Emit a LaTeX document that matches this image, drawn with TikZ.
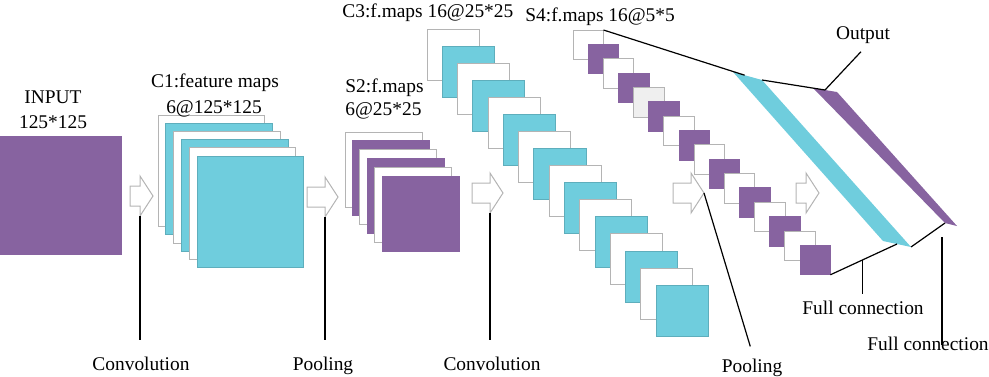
\documentclass[tikz,border=0pt]{standalone}
\usepackage{fontspec}
\setmainfont{Liberation Serif}
\usetikzlibrary{calc}
\definecolor{mapcyan}{HTML}{6FCDDD}
\definecolor{mappurple}{HTML}{8763A0}
\definecolor{mapedge}{HTML}{B4B4B4}
\definecolor{lightsheet}{HTML}{EFEFEF}
\tikzset{
  fmap/.style={draw=mapedge, line width=0.4pt, anchor=north west, inner sep=0pt, outer sep=0pt},
  c1map/.style={fmap, minimum width=53.25pt, minimum height=55.75pt},
  s2map/.style={fmap, minimum width=38.5pt, minimum height=37.5pt},
  c3map/.style={fmap, minimum width=26pt, minimum height=25.5pt},
  s4map/.style={fmap, minimum width=15.25pt, minimum height=14.75pt},
  lbl/.style={inner xsep=1pt, inner ysep=3pt},
  callout/.style={draw=black, line width=0.6pt},
  pics/openarrow/.style={code={
    \draw[draw=mapedge, fill=white, line width=0.5pt] (0,0) -- (-13,-20) -- (-13,-10)
      -- (-13-#1,-10) -- (-13-#1,10) -- (-13,10) -- (-13,20) -- cycle;
    \coordinate (-tip) at (0,0);
    \coordinate (-low) at (-13,20);
  }},
}

\begin{document}
\begin{tikzpicture}[x=0.5pt, y=-0.5pt, font=\fontsize{9.7}{11.6}\selectfont]
  \useasboundingbox (0,0) rectangle (989,376);
  % input
  \node[fmap, draw=none, fill=mappurple, minimum width=61pt, minimum height=59.5pt] (input) at (0,136) {};
  \node[lbl, anchor=base] (inlbl) at (53,103) {INPUT};
  \node[lbl, anchor=base] (insize) at (53,128) {125*125};
  % C1
  \foreach \i in {1,...,6}{
    \ifodd\i \def\mapfill{white}\def\mapdraw{mapedge}\else\def\mapfill{mapcyan}\def\mapdraw{mapcyan!85!black}\fi
    \node[c1map, fill=\mapfill, draw=\mapdraw] (c1-\i) at ({158+(\i-1)*7.8},{115+(\i-1)*8.2}) {};
  }
  \node[lbl, anchor=base] (c1lbl) at (215,87) {C1:feature maps};
  \node[lbl, anchor=base] (c1size) at (214,113) {6@125*125};
  % S2
  \foreach \i in {1,...,6}{
    \ifodd\i \def\mapfill{white}\def\mapdraw{mapedge}\else\def\mapfill{mappurple}\def\mapdraw{mappurple}\fi
    \node[s2map, fill=\mapfill, draw=\mapdraw] (s2-\i) at ({345+(\i-1)*7.4},{132+(\i-1)*8.8}) {};
  }
  \node[lbl, anchor=base west, inner xsep=0pt] (s2lbl) at (345,92) {S2:f.maps};
  \node[lbl, anchor=base west, inner xsep=0pt] (s2size) at (345,115) {6@25*25};
  % C3
  \foreach \i in {1,...,16}{
    \ifodd\i \def\mapfill{white}\def\mapdraw{mapedge}\else\def\mapfill{mapcyan}\def\mapdraw{mapcyan!85!black}\fi
    \node[c3map, fill=\mapfill, draw=\mapdraw] (c3-\i) at ({427+(\i-1)*15.27},{29+(\i-1)*17.07}) {};
  }
  \node[lbl, anchor=base west, inner xsep=0pt] (c3lbl) at (342,17) {C3:f.maps 16@25*25};
  % S4
  \foreach \i in {1,...,16}{
    \ifodd\i \def\mapfill{white}\def\mapdraw{mapedge}\else\def\mapfill{mappurple}\def\mapdraw{mappurple}\fi
    \ifnum\i=5 \def\mapfill{lightsheet}\fi
    \node[s4map, fill=\mapfill, draw=\mapdraw] (s4-\i) at ({573+(\i-1)*15.13},{30+(\i-1)*14.35}) {};
  }
  \node[lbl, anchor=base west, inner xsep=0pt] (s4lbl) at (525,21) {S4:f.maps 16@5*5};
  % full connection layers
  \coordinate (cy1) at (733,72);
  \coordinate (cy2) at (762,80);
  \coordinate (cy3) at (911,247);
  \coordinate (cy4) at (883,241);
  \fill[mapcyan] (cy1) -- (cy2) -- (cy3) -- (cy4) -- cycle;
  \coordinate (pu1) at (813,88);
  \coordinate (pu2) at (837,92);
  \coordinate (pu3) at (957,226);
  \coordinate (pu4) at (945,223);
  \fill[mappurple] (pu1) -- (pu2) -- (pu3) -- (pu4) -- cycle;
  \coordinate (cytop) at ($(cy1)!0.4!(cy2)$);
  \coordinate (cybot) at ($(cy4)!0.5!(cy3)$);
  \coordinate (putop) at ($(pu1)!0.5!(pu2)$);
  \draw[callout] (s4-1.north east) -- (cytop);
  \draw[callout] (cy2) -- (putop);
  \draw[callout] (s4-16.south east) -- (cybot);
  \draw[callout] (cy3) -- (pu4);
  \node[lbl, anchor=base] (out) at (863,39) {Output};
  \draw[callout, shorten <=1.5pt] (out.south) -- (putop);
  % operation arrows
  \pic (a1) at (153,196) {openarrow=10};
  \pic (a2) at (338,197) {openarrow=18};
  \pic (a3) at (503,193) {openarrow=18};
  \pic (a4) at (704,193) {openarrow=18};
  \pic (a5) at (819,193) {openarrow=10};
  % bottom labels
  \node[lbl, anchor=base] (conv1) at (141,370) {Convolution};
  \node[lbl, anchor=base] (pool1) at (323,370) {Pooling};
  \node[lbl, anchor=base] (conv2) at (492,370) {Convolution};
  \node[lbl, anchor=base] (pool2) at (752,372) {Pooling};
  \node[lbl, anchor=base] (fc1) at (863,314) {Full connection};
  \node[lbl, anchor=base] (fc2) at (928,350) {Full connection};
  \draw[callout, shorten >=5pt] (a1-low) -- (a1-low |- conv1.north);
  \draw[callout, shorten >=5pt] (a2-low) -- (a2-low |- pool1.north);
  \draw[callout, shorten >=5pt] (a3-low) -- (a3-low |- conv2.north);
  \draw[callout, shorten >=3pt] (a4-tip) -- (pool2.north);
  \coordinate (fcjoin) at ($(s4-16.south east)!0.48!(cybot)$);
  \draw[callout] (fcjoin) -- (fcjoin |- fc1.north);
  \coordinate (fc2top) at (942,237);
  \draw[callout, shorten >=-7.5pt] (fc2top) -- (fc2top |- fc2.north);
\end{tikzpicture}
\end{document}
